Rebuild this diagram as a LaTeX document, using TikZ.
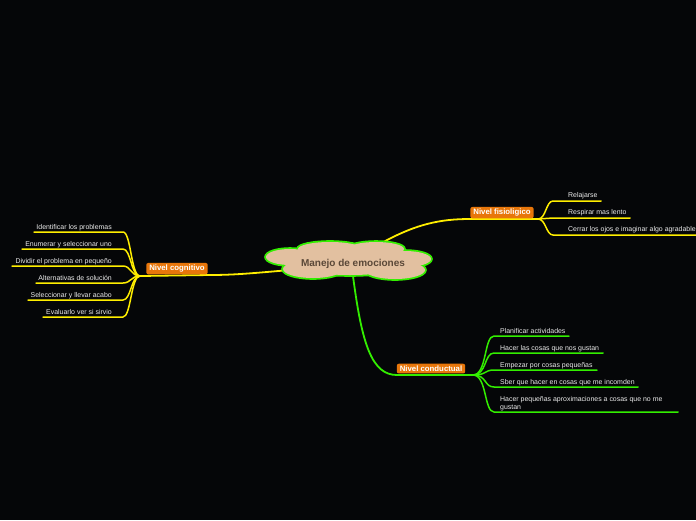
\documentclass[tikz,border=0pt]{standalone}
\usepackage{fontspec}
\setmainfont{Liberation Sans}
\definecolor{bg}{HTML}{050608}
\definecolor{ylw}{HTML}{FFEE00}
\definecolor{grn}{HTML}{33EE00}
\definecolor{org}{HTML}{E8760A}
\definecolor{tan}{HTML}{E2C0A0}
\definecolor{ctxt}{HTML}{5A4838}
\definecolor{ltxt}{HTML}{EDEDED}
\tikzset{
  mainbox/.style={fill=org, rounded corners=2pt, text=white, font=\fontsize{7.8}{8.5}\selectfont\bfseries, inner xsep=3pt, inner ysep=2pt},
  leaf/.style={text=ltxt, font=\fontsize{6.95}{8}\selectfont, inner sep=0pt},
  ybr/.style={draw=ylw, line width=1.8pt, line cap=round},
  yleaf/.style={draw=ylw, line width=1.5pt, line cap=round},
  gbr/.style={draw=grn, line width=1.8pt, line cap=round},
  gleaf/.style={draw=grn, line width=1.5pt, line cap=round},
}
\begin{document}
\begin{tikzpicture}[x=1pt,y=-1pt]
\fill[bg] (0,0) rectangle (696,520);
\useasboundingbox (0,0) rectangle (696,520);

% connectors from the central topic (drawn first, cloud covers ends)
\coordinate (cF) at (378,245);
\coordinate (cC) at (290,270);
\coordinate (cB) at (353,276);
\coordinate (fF) at (470,219);
\coordinate (fC) at (210,275);
\coordinate (fB) at (397,375);
\draw[ybr] (cF) .. controls (415,224) and (440,219) .. (fF);
\draw[ybr] (cC) .. controls (255,273) and (235,275) .. (fC);
\draw[gbr] (cB) .. controls (362,345) and (372,375) .. (fB);

% central cloud
\begin{scope}
\foreach \cx/\cy/\rx/\ry in {290/257/24/8, 330/249/32/7, 376/249/28/7, 405/259/26/8, 395/270/30/9, 313/269/30/9, 350/262/62/13}{
  \draw[grn, line width=3.6pt] (\cx,\cy) ellipse [x radius=\rx pt, y radius=\ry pt];
}
\foreach \cx/\cy/\rx/\ry in {290/257/24/8, 330/249/32/7, 376/249/28/7, 405/259/26/8, 395/270/30/9, 313/269/30/9, 350/262/62/13}{
  \fill[tan] (\cx,\cy) ellipse [x radius=\rx pt, y radius=\ry pt];
}
\end{scope}
\node[text=ctxt, font=\fontsize{10}{11}\selectfont\bfseries] (center) at (353,264.3) {Manejo de emociones};

% ---------- Nivel fisiologico ----------
\coordinate (kF) at (538,219);
\draw[ybr] (fF) -- (kF);
\node[mainbox] (nF) at (502,212.6) {Nivel fisioligico};
\node[leaf, anchor=west] (f1) at (568,195.4) {Relajarse};
\node[leaf, anchor=west] (f2) at (568,212.4) {Respirar mas lento};
\node[leaf, anchor=west] (f3) at (568,229.4) {Cerrar los ojos e imaginar algo agradable};
\coordinate (f1a) at (553,201); \coordinate (f1b) at (601,201);
\coordinate (f2a) at (553,218); \coordinate (f2b) at (630,218);
\coordinate (f3a) at (553,235); \coordinate (f3b) at (697,235);
\foreach \i in {1,2,3}{
  \draw[yleaf] (kF) .. controls +(8,0) and +(-7,0) .. (f\i a) -- (f\i b);
}

% ---------- Nivel cognitivo ----------
\coordinate (kC) at (140,276);
\draw[ybr] (fC) -- (kC);
\node[mainbox] (nC) at (177,268.6) {Nivel cognitivo};
\node[leaf, anchor=east] (c1) at (112,227.4) {Identificar los problemas};
\node[leaf, anchor=east] (c2) at (112,244.4) {Enumerar y seleccionar uno};
\node[leaf, anchor=east] (c3) at (112,261.4) {Dividir el problema en pequeño};
\node[leaf, anchor=east] (c4) at (112,278.4) {Alternativas de solución};
\node[leaf, anchor=east] (c5) at (112,295.4) {Seleccionar y llevar acabo};
\node[leaf, anchor=east] (c6) at (112,312.4) {Evaluarlo ver si sirvio};
\coordinate (c1a) at (123,232); \coordinate (c1b) at (34,232);
\coordinate (c2a) at (123,249); \coordinate (c2b) at (22,249);
\coordinate (c3a) at (123,266); \coordinate (c3b) at (12,266);
\coordinate (c4a) at (123,283); \coordinate (c4b) at (36,283);
\coordinate (c5a) at (123,300); \coordinate (c5b) at (28,300);
\coordinate (c6a) at (123,317); \coordinate (c6b) at (43,317);
\foreach \i in {1,...,6}{
  \draw[yleaf] (kC) .. controls +(-9,0) and +(8,0) .. (c\i a) -- (c\i b);
}

% ---------- Nivel conductual ----------
\coordinate (kB) at (473,375);
\draw[gbr] (fB) -- (kB);
\node[mainbox] (nB) at (431,368.6) {Nivel conductual};
\node[leaf, anchor=west] (b1) at (500,331.4) {Planificar actividades};
\node[leaf, anchor=west] (b2) at (500,348.4) {Hacer las cosas que nos gustan};
\node[leaf, anchor=west] (b3) at (500,365.4) {Empezar por cosas pequeñas};
\node[leaf, anchor=west] (b4) at (500,382.4) {Sber que hacer en cosas que me incomden};
\node[leaf, anchor=north west, align=left] (b5) at (500,396.2) {Hacer pequeñas aproximaciones a cosas que no me\\gustan};
\coordinate (b1a) at (494,336); \coordinate (b1b) at (569,336);
\coordinate (b2a) at (494,353); \coordinate (b2b) at (603,353);
\coordinate (b3a) at (494,370); \coordinate (b3b) at (597,370);
\coordinate (b4a) at (494,387); \coordinate (b4b) at (638,387);
\coordinate (b5a) at (494,412); \coordinate (b5b) at (678,412);
\foreach \i in {1,...,5}{
  \draw[gleaf] (kB) .. controls +(14,0) and +(-10,0) .. (b\i a) -- (b\i b);
}
\end{tikzpicture}
\end{document}
